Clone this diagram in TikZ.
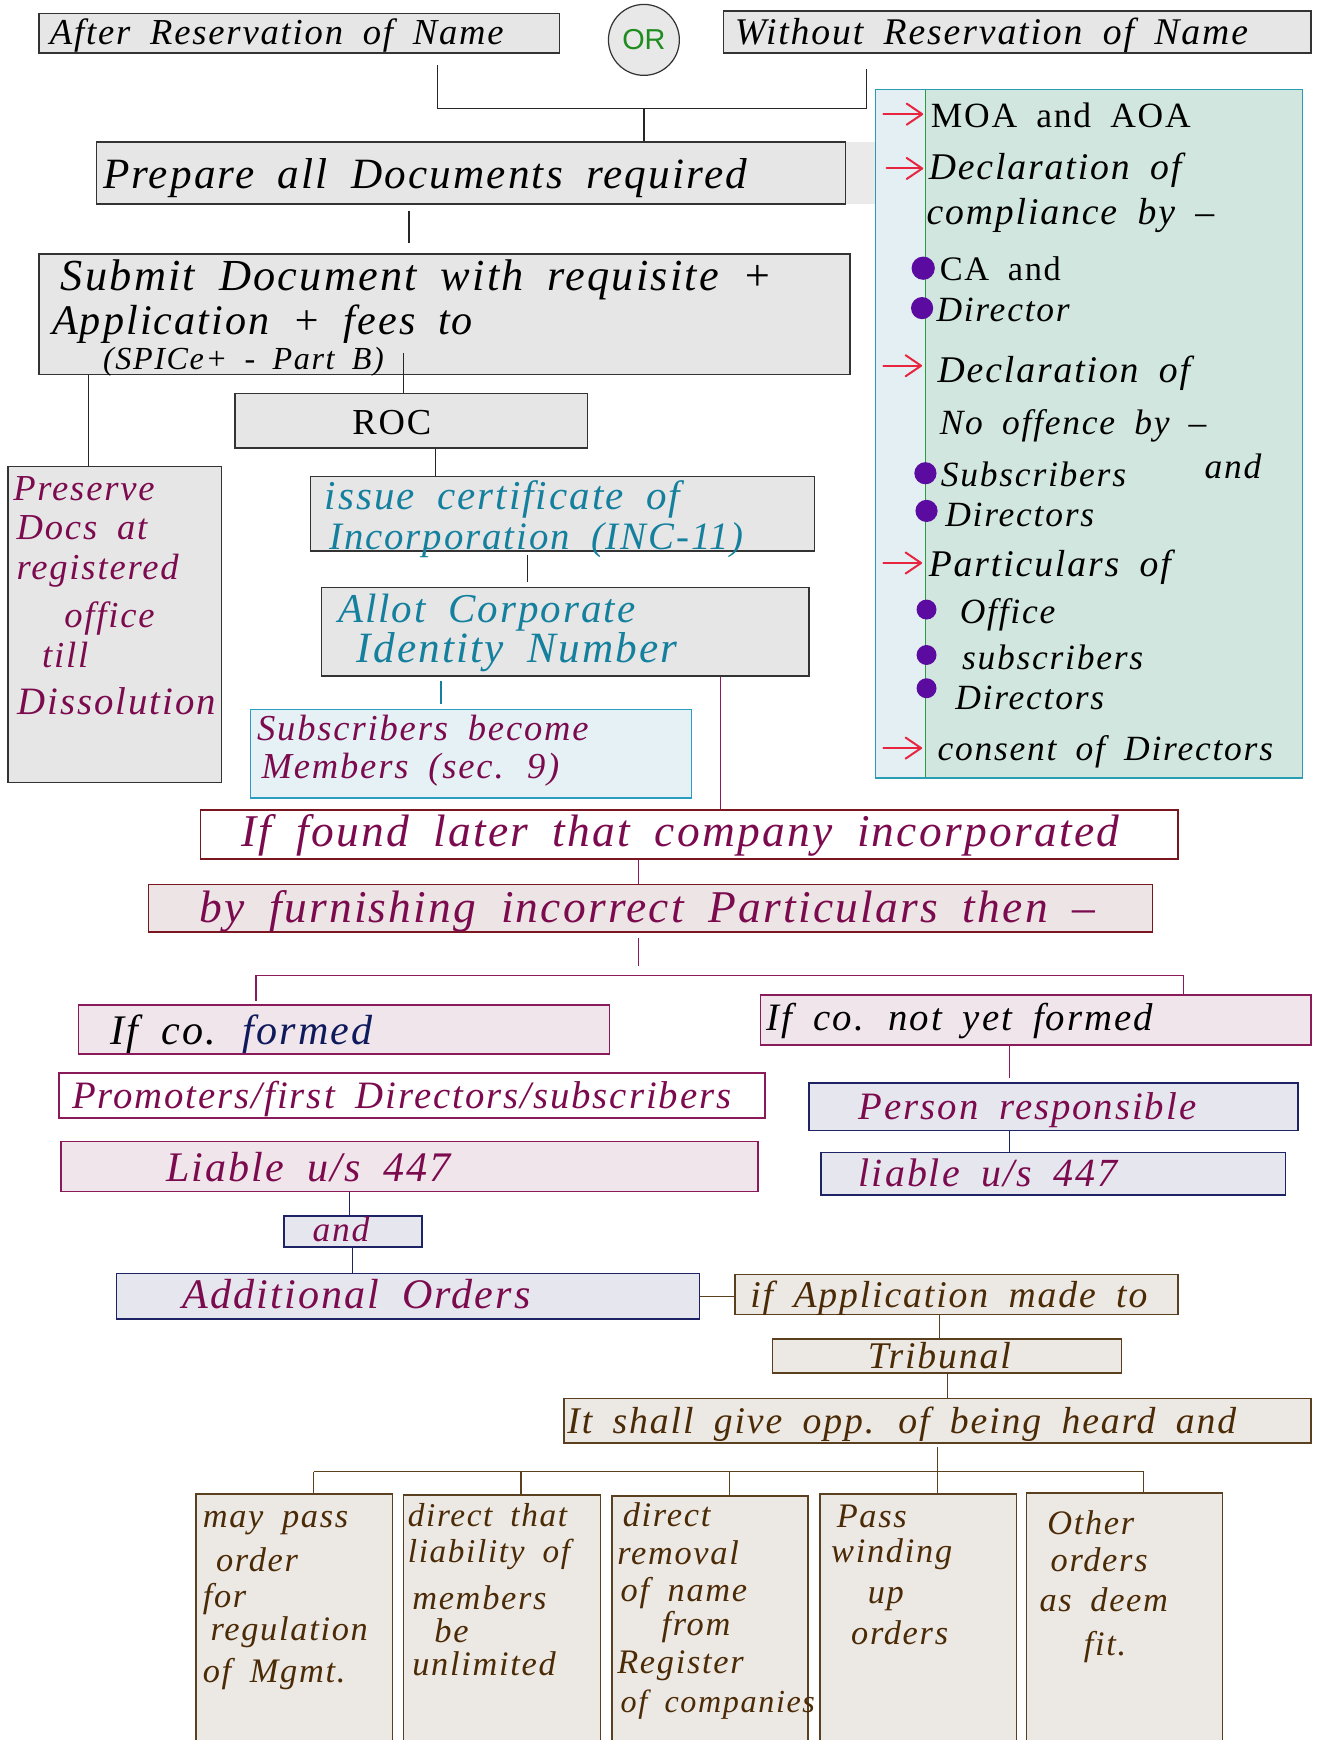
\documentclass[tikz,border=0pt]{standalone}
\usepackage{fontspec}
\setmainfont{Liberation Serif}[LetterSpace=5,WordSpace=1.8]
\newfontfamily\orsans{Liberation Sans}
\usetikzlibrary{fit,arrows.meta}
\definecolor{boxgray}{HTML}{E6E6E6}
\definecolor{orfill}{HTML}{E8E8E8}
\definecolor{orgreen}{HTML}{1E8C1E}
\definecolor{teal}{HTML}{14809E}
\definecolor{maroon}{HTML}{7B0B4E}
\definecolor{navytx}{HTML}{0F1A5C}
\definecolor{browntx}{HTML}{4B2A06}
\definecolor{darkred}{HTML}{7A1620}
\definecolor{mborder}{HTML}{8A1A5A}
\definecolor{nborder}{HTML}{1E2366}
\definecolor{bborder}{HTML}{5B4020}
\definecolor{pinkgray}{HTML}{EDE5E5}
\definecolor{lightpink}{HTML}{F1E5EC}
\definecolor{bluegray}{HTML}{E6E6EE}
\definecolor{beige}{HTML}{ECE8E4}
\definecolor{lightblue}{HTML}{E6F1F6}
\definecolor{bluebord}{HTML}{2A9DC0}
\definecolor{panelblue}{HTML}{E3EFF3}
\definecolor{panelgreen}{HTML}{D1E6DF}
\definecolor{paneledge}{HTML}{2A9DB5}
\definecolor{greenline}{HTML}{2E9A3E}
\definecolor{arrowred}{HTML}{E8253F}
\definecolor{bulletpurple}{HTML}{5B0BA0}
\begin{document}
\begin{tikzpicture}[x=1pt,y=-1pt,
  gbox/.style={draw=black!80, fill=boxgray, line width=1.4pt, inner sep=0},
  bluebox/.style={draw=bluebord, fill=lightblue, line width=1.4pt, inner sep=0},
  redbox/.style={draw=darkred, line width=1.4pt, inner sep=0},
  mbox/.style={draw=mborder, fill=lightpink, line width=1.4pt, inner sep=0},
  nbox/.style={draw=nborder, fill=bluegray, line width=1.4pt, inner sep=0},
  bbox/.style={draw=bborder, fill=beige, line width=1.4pt, inner sep=0},
  conn/.style={draw=black!85, line width=1.1pt},
  tealconn/.style={draw=teal, line width=1.1pt},
  mconn/.style={draw=mborder, line width=1.1pt},
  nconn/.style={draw=nborder, line width=1.1pt},
  brconn/.style={draw=bborder, line width=1.1pt},
  redarrow/.style={draw=arrowred, line width=1.8pt, line cap=round, -{Straight Barb[length=14pt,width=19pt,round]}},
  bullet/.style={fill=bulletpurple},
  hw/.style={inner sep=0, outer sep=0, anchor=base west, font={\itshape\fontsize{#1}{#1}\selectfont}},
  up/.style={inner sep=0, outer sep=0, anchor=base west, font={\upshape\fontsize{#1}{#1}\selectfont}}
]
\useasboundingbox (0,0) rectangle (1190,1570);
\fill[white] (0,0) rectangle (1190,1570);

% ---------- top row ----------
\node[gbox, fit={(35,12) (505,48)}] (after) {};
\node[circle, draw=black!80, fill=orfill, line width=1.1pt, minimum size=64pt, inner sep=0,
      text=orgreen, font={\orsans\fontsize{26}{26}\selectfont}] (or) at (581,36) {OR};
\node[gbox, fit={(653,10) (1183,48)}] (without) {};
\node[hw=33] (tafter) at (45,40) {After Reservation of Name};
\node[hw=34] (twithout) at (663,40) {Without Reservation of Name};

% ---------- main column ----------
\fill[boxgray!85] (763,128) rectangle (790,184);
\node[gbox, fit={(87,128) (763,184)}] (prepare) {};
\node[hw=39] (tprepare) at (93,170) {Prepare all Documents required};
\node[gbox, fit={(35,229) (767,338)}] (submit) {};
\node[hw=40] (tsub1) at (55,262) {Submit Document with requisite +};
\node[hw=38] (tsub2) at (47,302) {Application + fees to};
\node[hw=29] (tsub3) at (93,333) {(SPICe+ - Part B)};
\node[gbox, fit={(212,355) (530,404)}] (roc) {};
\node[up=33] (troc) at (318,392) {ROC};
\node[gbox, fit={(7,421) (200,706)}] (preserve) {};
\node[hw=33, text=maroon] (tp1) at (12,452) {Preserve};
\node[hw=33, text=maroon] (tp2) at (15,487) {Docs at};
\node[hw=33, text=maroon] (tp3) at (15,523) {registered};
\node[hw=33, text=maroon] (tp4) at (58,566) {office};
\node[hw=33, text=maroon] (tp5) at (38,602) {till};
\node[hw=35, text=maroon] (tp6) at (16,645) {Dissolution};
\node[gbox, fit={(280,430) (735,497)}] (issue) {};
\node[hw=37, text=teal] (ti1) at (293,460) {issue certificate of};
\node[hw=35, text=teal] (ti2) at (297,496) {Incorporation (INC-11)};
\node[gbox, fit={(290,530) (730,610)}] (allot) {};
\node[hw=37, text=teal] (ta1) at (305,562) {Allot Corporate};
\node[hw=39, text=teal] (ta2) at (322,598) {Identity Number};
\node[bluebox, fit={(226,640) (624,720)}] (subs) {};
\node[hw=33, text=maroon] (ts1) at (232,668) {Subscribers become};
\node[hw=33, text=maroon] (ts2) at (236,702) {Members (sec. 9)};

% ---------- right panel ----------
\node[fill=panelblue, inner sep=0, fit={(790,81) (1175,702)}] (panel) {};
\fill[panelgreen] (835,81) rectangle (1175,702);
\draw[greenline, line width=1.2pt] (835,81) -- (835,702);
\draw[paneledge, line width=1.4pt] (panel.north west) rectangle (panel.south east);
\draw[redarrow] (797,103) -- (833,103);
\draw[redarrow] (800,152) -- (833,152);
\draw[redarrow] (797,330) -- (832,330);
\draw[redarrow] (797,508) -- (832,508);
\draw[redarrow] (797,675) -- (832,675);
\fill[bullet] (833,242) circle (10.5pt);
\fill[bullet] (832,278) circle (10pt);
\fill[bullet] (835,427) circle (10pt);
\fill[bullet] (836,461) circle (10pt);
\fill[bullet] (836,550) circle (9pt);
\fill[bullet] (836,591) circle (9pt);
\fill[bullet] (836,621) circle (9pt);
\node[up=32] (r1) at (840,115) {MOA and AOA};
\node[hw=34] (r2) at (838,162) {Declaration of};
\node[hw=34] (r3) at (836,203) {compliance by –};
\node[up=31] (r4) at (848,253) {CA and};
\node[hw=32] (r5) at (845,290) {Director};
\node[hw=34] (r6) at (846,345) {Declaration of};
\node[hw=32] (r7) at (848,392) {No offence by –};
\node[hw=32] (r8) at (849,439) {Subscribers};
\node[hw=32] (r9) at (1087,432) {and};
\node[hw=32] (r10) at (853,475) {Directors};
\node[hw=34] (r11) at (838,520) {Particulars of};
\node[hw=32] (r12) at (866,563) {Office};
\node[hw=32] (r13) at (868,604) {subscribers};
\node[hw=32] (r14) at (862,640) {Directors};
\node[hw=32] (r15) at (846,686) {consent of Directors};

% ---------- middle ----------
\node[redbox, fill=white, fit={(181,731) (1063,775)}] (found) {};
\node[hw=41, text=maroon] (tfound) at (218,764) {If found later that company incorporated};
\node[redbox, fill=pinkgray, fit={(134,798) (1040,841)}] (furnish) {};
\node[hw=41, text=maroon] (tfurn) at (180,832) {by furnishing incorrect Particulars then –};
\node[mbox, fit={(71,907) (550,951)}] (formed) {};
\node[hw=38] (tformed) at (100,942) {If co. \textcolor{navytx}{formed}};
\node[mbox, fit={(686,898) (1183,943)}] (notyet) {};
\node[hw=35] (tnotyet) at (692,930) {If co. not yet formed};
\node[mbox, fill=white, fit={(53,968) (690,1009)}] (promo) {};
\node[hw=35, text=maroon] (tpromo) at (65,1000) {Promoters/first Directors/subscribers};
\node[nbox, fit={(730,977) (1171,1020)}] (person) {};
\node[hw=35, text=maroon] (tperson) at (775,1010) {Person responsible};
\node[nbox, fit={(741,1040) (1160,1078)}] (liabler) {};
\node[hw=36, text=maroon] (tliabr) at (775,1071) {liable u/s 447};
\node[mbox, fit={(55,1030) (684,1075)}] (liablel) {};
\node[hw=38, text=maroon] (tliabl) at (150,1066) {Liable u/s 447};
\node[nbox, fit={(256,1097) (381,1125)}] (and) {};
\node[hw=32, text=maroon] (tand) at (282,1120) {and};
\node[nbox, fit={(105,1149) (631,1190)}] (addl) {};
\node[hw=38, text=maroon] (taddl) at (165,1181) {Additional Orders};
\node[bbox, fit={(663,1150) (1063,1186)}] (appl) {};
\node[hw=34, text=browntx] (tappl) at (677,1180) {if Application made to};
\node[bbox, fit={(697,1208) (1012,1239)}] (trib) {};
\node[hw=34, text=browntx] (ttrib) at (783,1235) {Tribunal};
\node[bbox, fit={(509,1262) (1183,1302)}] (heard) {};
\node[hw=34, text=browntx] (theard) at (512,1293) {It shall give opp. of being heard and};

% ---------- bottom boxes ----------
\node[bbox, fit={(177,1348) (354,1590)}] (o1) {};
\node[bbox, fit={(364,1349) (542,1590)}] (o2) {};
\node[bbox, fit={(552,1350) (729,1590)}] (o3) {};
\node[bbox, fit={(740,1348) (917,1590)}] (o4) {};
\node[bbox, fit={(926,1347) (1103,1590)}] (o5) {};
\node[hw=31, text=browntx] (a1) at (183,1378) {may pass};
\node[hw=31, text=browntx] (a2) at (195,1418) {order};
\node[hw=31, text=browntx] (a3) at (183,1450) {for};
\node[hw=31, text=browntx] (a4) at (190,1480) {regulation};
\node[hw=31, text=browntx] (a5) at (183,1518) {of Mgmt.};
\node[hw=30, text=browntx] (b1) at (368,1377) {direct that};
\node[hw=30, text=browntx] (b2) at (368,1410) {liability of};
\node[hw=31, text=browntx] (b3) at (372,1452) {members};
\node[hw=31, text=browntx] (b4) at (392,1482) {be};
\node[hw=31, text=browntx] (b5) at (372,1512) {unlimited};
\node[hw=31, text=browntx] (c1) at (562,1377) {direct};
\node[hw=31, text=browntx] (c2) at (557,1412) {removal};
\node[hw=31, text=browntx] (c3) at (560,1445) {of name};
\node[hw=31, text=browntx] (c4) at (597,1476) {from};
\node[hw=31, text=browntx] (c5) at (557,1510) {Register};
\node[hw=29, text=browntx] (c6) at (560,1545) {of companies};
\node[hw=31, text=browntx] (d1) at (755,1378) {Pass};
\node[hw=31, text=browntx] (d2) at (750,1410) {winding};
\node[hw=31, text=browntx] (d3) at (783,1447) {up};
\node[hw=31, text=browntx] (d4) at (768,1484) {orders};
\node[hw=31, text=browntx] (e1) at (945,1385) {Other};
\node[hw=31, text=browntx] (e2) at (948,1418) {orders};
\node[hw=31, text=browntx] (e3) at (938,1454) {as deem};
\node[hw=31, text=browntx] (e4) at (978,1494) {fit.};

% ---------- connectors ----------
\coordinate (j1) at (395,98);
\coordinate (jm) at (581,98);
\coordinate (j2) at (782,98);
\draw[conn] ([yshift=-10pt]after.south -| j1) -- (j1) -- (j2) -- ([yshift=-14pt]without.south -| j2);
\draw[conn] (jm) -- (prepare.north -| jm);
\coordinate (x369) at (369,0);
\coordinate (x364) at (364,0);
\coordinate (x80) at (80,0);
\coordinate (x393) at (393,0);
\coordinate (x476) at (476,0);
\coordinate (x398) at (398,0);
\coordinate (x650) at (650,0);
\coordinate (x576) at (576,0);
\coordinate (x911) at (911,0);
\coordinate (x315) at (315,0);
\coordinate (x318) at (318,0);
\coordinate (x848) at (848,0);
\coordinate (x855) at (855,0);
\draw[conn] ([yshift=-6pt]prepare.south -| x369) -- ([yshift=9pt]submit.north -| x369);
\draw[conn] ([yshift=20pt]submit.south -| x364) -- (roc.north -| x364);
\draw[conn] (submit.south -| x80) -- (preserve.north -| x80);
\draw[conn] (roc.south -| x393) -- (issue.north -| x393);
\draw[conn] ([yshift=-3pt]issue.south -| x476) -- ([yshift=4pt]allot.north -| x476);
\draw[tealconn] ([yshift=-4pt]allot.south -| x398) -- ([yshift=4pt]subs.north -| x398);
\draw[mconn] (allot.south -| x650) -- (found.north -| x650);
\draw[mconn] (found.south -| x576) -- (furnish.north -| x576);
\coordinate (bl) at (231,880);
\coordinate (bm) at (576,880);
\coordinate (br) at (1068,880);
\draw[mconn] ([yshift=-5pt]furnish.south -| bm) -- ([yshift=8pt]bm);
\draw[mconn] ([yshift=3pt]formed.north -| bl) -- (bl) -- (br) -- (notyet.north -| br);
\draw[mconn] (notyet.south -| x911) -- ([yshift=4pt]person.north -| x911);
\draw[nconn] (person.south -| x911) -- (liabler.north -| x911);
\draw[nconn] (liablel.south -| x315) -- (and.north -| x315);
\draw[nconn] (and.south -| x318) -- (addl.north -| x318);
\draw[brconn] (addl.east) -- (addl.east -| appl.west);
\draw[brconn] (appl.south -| x848) -- (trib.north -| x848);
\draw[brconn] (trib.south -| x855) -- (heard.north -| x855);
\coordinate (k1) at (283,1328);
\coordinate (k2) at (470,1328);
\coordinate (k3) at (658,1328);
\coordinate (k4) at (846,1328);
\coordinate (k5) at (1032,1328);
\draw[brconn] ([yshift=-3pt]heard.south -| k4) -- (k4);
\draw[brconn] (k1) -- (k5);
\draw[brconn] (k1) -- (o1.north -| k1);
\draw[brconn] (k2) -- (o2.north -| k2);
\draw[brconn] (k3) -- (o3.north -| k3);
\draw[brconn] (k4) -- (o4.north -| k4);
\draw[brconn] (k5) -- (o5.north -| k5);
\end{tikzpicture}
\end{document}
